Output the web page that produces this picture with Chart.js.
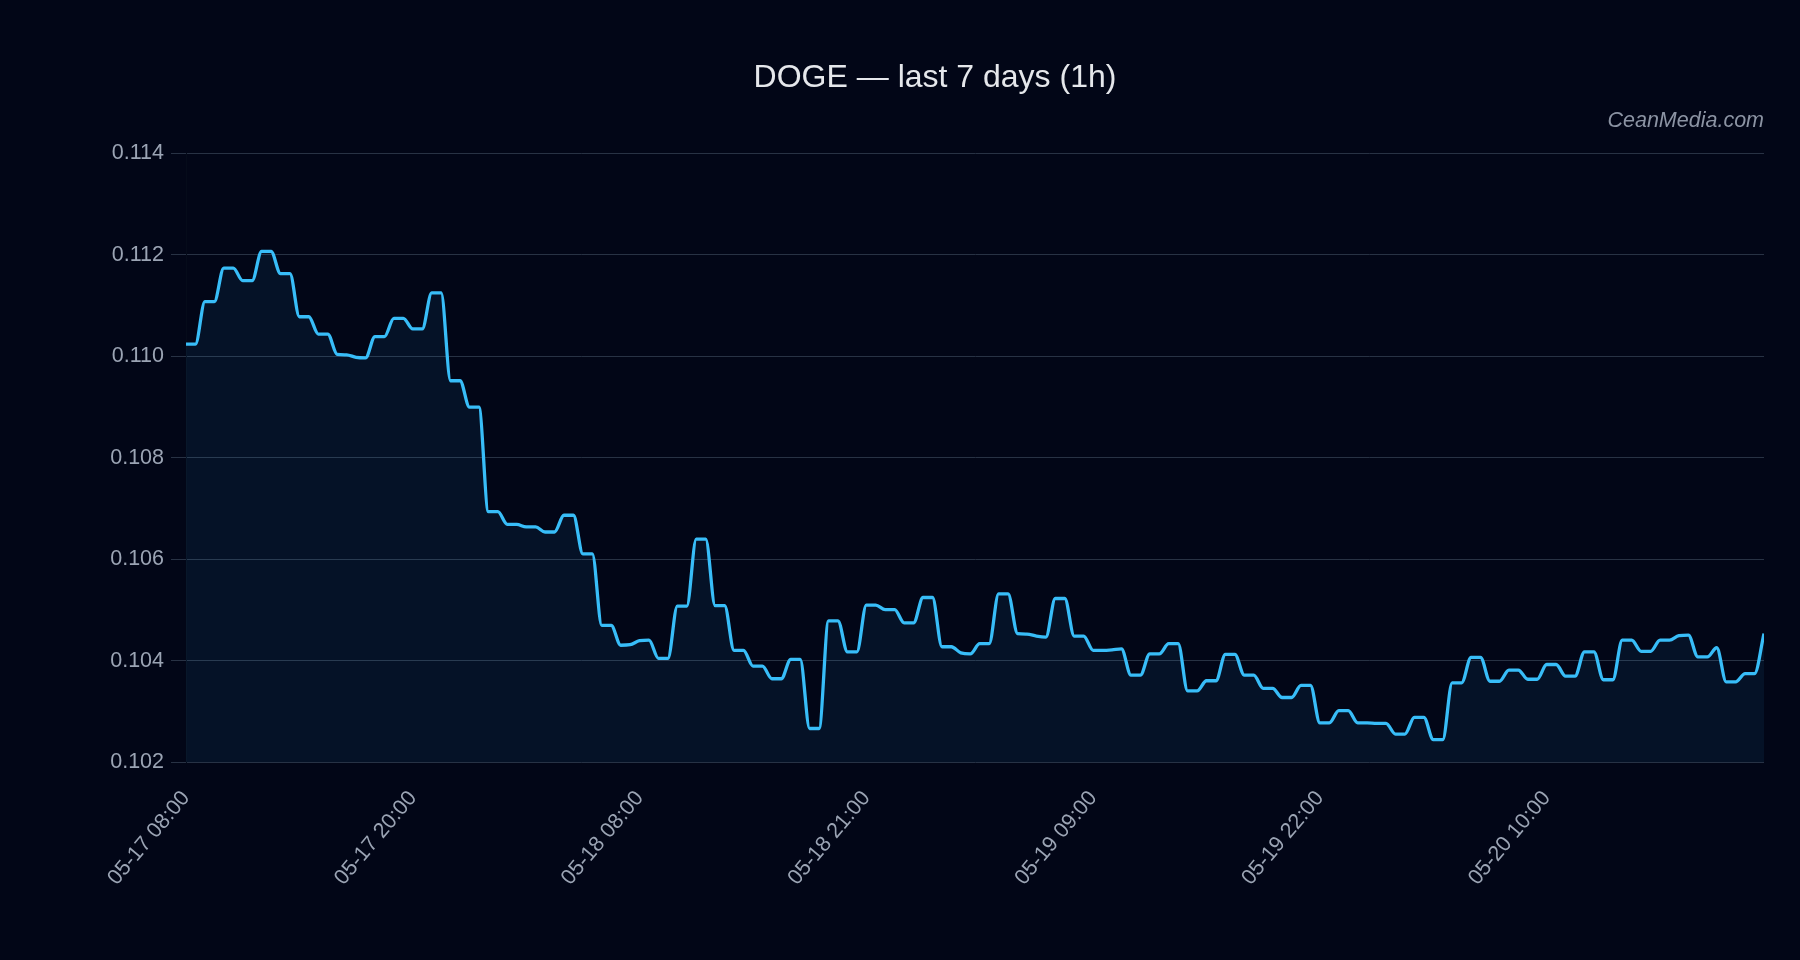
<!DOCTYPE html>
<html>
<head>
<meta charset="utf-8">
<script src="https://cdn.jsdelivr.net/npm/chart.js@4.4.1/dist/chart.umd.min.js"></script>
<style>
  html, body { margin: 0; padding: 0; background: #020617; }
  #wrap { width: 1800px; height: 960px; position: relative; }
</style>
</head>
<body>
<div id="wrap"><canvas id="c"></canvas></div>
<script>
const chartTitle = 'DOGE — last 7 days (1h)';
const watermark = 'CeanMedia.com';
const tickLabels = ['05-17 08:00', '05-17 20:00', '05-18 08:00', '05-18 21:00', '05-19 09:00', '05-19 22:00', '05-20 10:00'];
const pointsPerLabel = 24;
const yTicks = [0.102, 0.104, 0.106, 0.108, 0.110, 0.112, 0.114];
const prices = [
  0.11024, 0.11024, 0.11108, 0.11108, 0.11174, 0.11174, 0.11149, 0.11149, 0.11207, 0.11207,
  0.11163, 0.11163, 0.11078, 0.11078, 0.11044, 0.11044, 0.11004, 0.11003, 0.10998, 0.10997,
  0.11039, 0.11039, 0.11075, 0.11075, 0.11054, 0.11054, 0.11125, 0.11125, 0.10952, 0.10952,
  0.10900, 0.10900, 0.10694, 0.10694, 0.10669, 0.10669, 0.10664, 0.10664, 0.10654, 0.10654,
  0.10687, 0.10687, 0.10611, 0.10611, 0.10470, 0.10470, 0.10431, 0.10432, 0.10440, 0.10441,
  0.10405, 0.10405, 0.10508, 0.10508, 0.10640, 0.10640, 0.10509, 0.10509, 0.10421, 0.10421,
  0.10390, 0.10390, 0.10365, 0.10365, 0.10403, 0.10403, 0.10267, 0.10267, 0.10479, 0.10479,
  0.10418, 0.10418, 0.10510, 0.10510, 0.10501, 0.10501, 0.10475, 0.10475, 0.10525, 0.10525,
  0.10428, 0.10428, 0.10416, 0.10414, 0.10434, 0.10434, 0.10532, 0.10532, 0.10454, 0.10453,
  0.10449, 0.10447, 0.10523, 0.10523, 0.10449, 0.10449, 0.10421, 0.10421, 0.10422, 0.10424,
  0.10372, 0.10372, 0.10414, 0.10414, 0.10434, 0.10434, 0.10341, 0.10341, 0.10361, 0.10361,
  0.10413, 0.10413, 0.10372, 0.10372, 0.10346, 0.10346, 0.10328, 0.10328, 0.10352, 0.10352,
  0.10278, 0.10278, 0.10302, 0.10302, 0.10278, 0.10278, 0.10277, 0.10277, 0.10256, 0.10256,
  0.10289, 0.10289, 0.10245, 0.10245, 0.10357, 0.10357, 0.10407, 0.10407, 0.10360, 0.10360,
  0.10382, 0.10382, 0.10364, 0.10364, 0.10393, 0.10393, 0.10370, 0.10370, 0.10418, 0.10418,
  0.10363, 0.10363, 0.10441, 0.10441, 0.10419, 0.10419, 0.10441, 0.10441, 0.10450, 0.10451,
  0.10408, 0.10408, 0.10426, 0.10359, 0.10359, 0.10375, 0.10375, 0.10454
];

const tickColor = '#9ba4b4';
const fontFamily = "'Liberation Sans', Arial, sans-serif";

new Chart(document.getElementById('c'), {
  type: 'line',
  data: {
    datasets: [{
      data: prices.map((v, i) => ({ x: i, y: v })),
      borderColor: '#38bdf8',
      borderWidth: 3.3,
      backgroundColor: 'rgba(56,189,248,0.07)',
      fill: 'start',
      pointRadius: 0,
      pointHoverRadius: 0,
      cubicInterpolationMode: 'monotone',
      tension: 0.4
    }]
  },
  options: {
    responsive: true,
    maintainAspectRatio: false,
    animation: false,
    layout: { padding: { left: 106, right: 36, top: 59.3, bottom: 0 } },
    plugins: {
      legend: { display: false },
      tooltip: { enabled: false },
      title: {
        display: true,
        text: chartTitle,
        color: '#e5e7eb',
        font: { family: fontFamily, size: 32, weight: 'normal' },
        padding: { top: 0, bottom: 10 }
      },
      subtitle: {
        display: true,
        text: watermark,
        align: 'end',
        color: '#8b93a3',
        font: { family: fontFamily, size: 21.5, style: 'italic', weight: 'normal' },
        padding: { top: 0, bottom: 19.8 }
      }
    },
    scales: {
      x: {
        type: 'linear',
        min: 0,
        max: prices.length - 1,
        grid: { display: false, drawTicks: false },
        border: { display: false },
        afterFit: (s) => { s.height = 197.5; },
        ticks: {
          stepSize: pointsPerLabel,
          autoSkip: false,
          includeBounds: false,
          minRotation: 50,
          maxRotation: 50,
          padding: 23.5,
          color: tickColor,
          font: { family: fontFamily, size: 21.5 },
          callback: (v) => (v % pointsPerLabel === 0 && tickLabels[v / pointsPerLabel]) ? tickLabels[v / pointsPerLabel] : ''
        }
      },
      y: {
        min: yTicks[0],
        max: yTicks[yTicks.length - 1],
        afterBuildTicks: (s) => { s.ticks = yTicks.map(v => ({ value: v })); },
        afterFit: (s) => { s.width = 80; },
        grid: { color: '#283244', lineWidth: 1, tickLength: 15 },
        border: { display: true, color: '#050b1a', width: 1 },
        ticks: {
          padding: 7,
          color: tickColor,
          font: { family: fontFamily, size: 21.5 },
          callback: (v) => Number(v).toFixed(3)
        }
      }
    }
  }
});
</script>
</body>
</html>
